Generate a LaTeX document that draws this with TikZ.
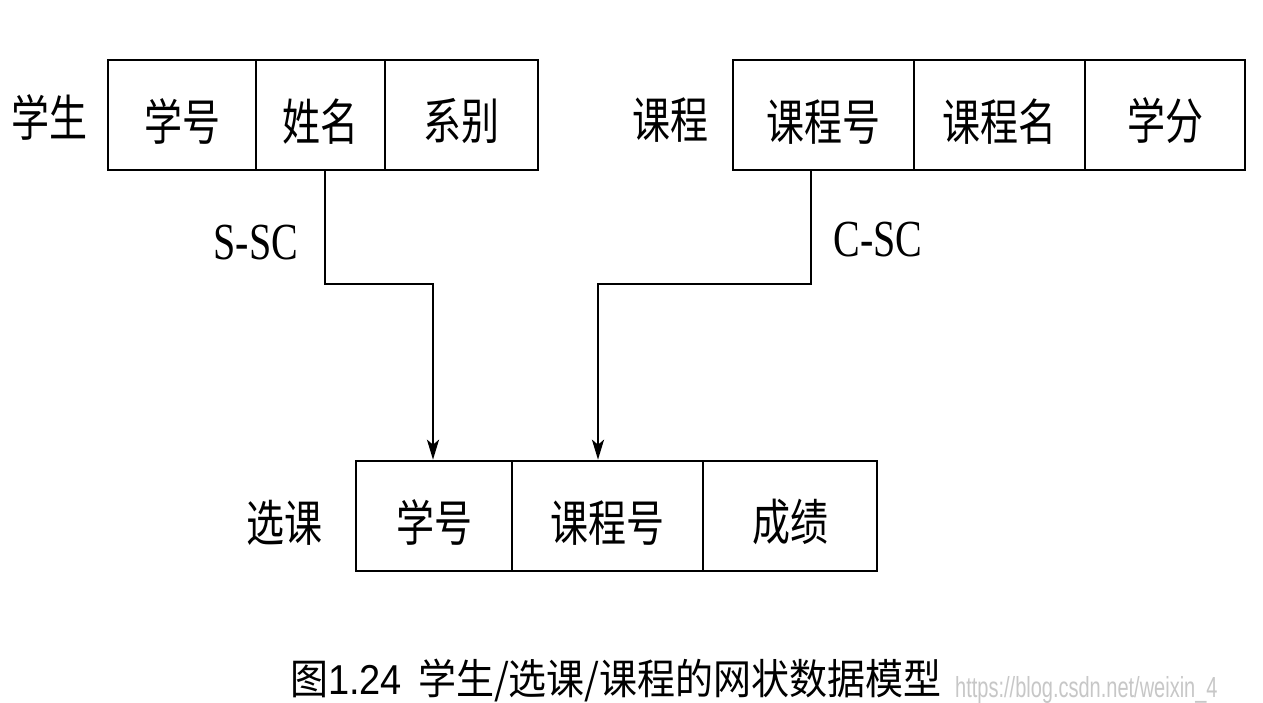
\documentclass[tikz,border=0pt]{standalone}
\usepackage{fontspec}
\setmainfont{Liberation Serif}
\newfontfamily\cjk{Noto Sans CJK SC}
\newfontfamily\arialf{Liberation Sans}
\usetikzlibrary{arrows.meta,calc}
\newcommand{\tall}[1]{\scalebox{1}[1.3]{#1}}
\newcommand{\ctall}[1]{\rule{0pt}{54pt}\scalebox{1}[1.3]{#1}}
\begin{document}
\begin{tikzpicture}[x=1pt,y=-1pt,
  cell/.style={draw,line width=2.6pt,minimum height=110pt,inner sep=0pt,
    font=\cjk\fontsize{38}{40}\selectfont},
  lab/.style={inner sep=0pt,font=\cjk\fontsize{38}{40}\selectfont},
  rel/.style={inner sep=0pt,font=\fontsize{40}{42}\selectfont},
  conn/.style={line width=2.4pt,-{Stealth[length=20pt,width=12pt,inset=5pt]}}]
\fill[white] (0,0) rectangle (1263,703);
\useasboundingbox (0,0) rectangle (1263,703);
% student
\node[cell,minimum width=148pt] (s1) at (182,115) {\ctall{学号}};
\node[cell,minimum width=129pt] (s2) at (320.5,115) {\ctall{姓名}};
\node[cell,minimum width=153pt] (s3) at (461.5,115) {\ctall{系别}};
\node[lab] (sl) at (50,117) {\tall{学生}};
% course
\node[cell,minimum width=181pt] (c1) at (823.5,115) {\ctall{课程号}};
\node[cell,minimum width=171pt] (c2) at (999.5,115) {\ctall{课程名}};
\node[cell,minimum width=160pt] (c3) at (1165,115) {\ctall{学分}};
\node[lab] (cl) at (670,120) {\tall{课程}};
% sc
\node[cell,minimum width=156pt] (e1) at (434,516) {\ctall{学号}};
\node[cell,minimum width=191pt] (e2) at (607.5,516) {\ctall{课程号}};
\node[cell,minimum width=174pt] (e3) at (790,516) {\ctall{成绩}};
\node[lab] (el) at (284,523) {\tall{选课}};
% connectors
\coordinate (ax1) at (433,0);
\coordinate (ax2) at (598,0);
\draw[conn] ($(s2.south)+(4.5,0)$) -- ++(0,113) -| (e1.north -| ax1);
\draw[conn] ($(c1.south)+(-12.5,0)$) -- ++(0,113) -| (e2.north -| ax2);
\node[rel] (r1) at (256,243) {\tall{S-SC}};
\node[rel] (r2) at (878,240) {\tall{C-SC}};
% caption
\node[inner sep=0pt] (cap) at (616,680) {\scalebox{1}[1.1]{\cjk\fontsize{38}{39}\selectfont 图{\arialf 1.24}\hspace{16pt}学生/选课/课程的网状数据模型}};
\node[inner sep=0pt,anchor=west,text=black!22] (wm) at (955,690) {\scalebox{1}[1.45]{\arialf\fontsize{20}{22}\selectfont https://blog.csdn.net/weixin\_4}};
\end{tikzpicture}
\end{document}
